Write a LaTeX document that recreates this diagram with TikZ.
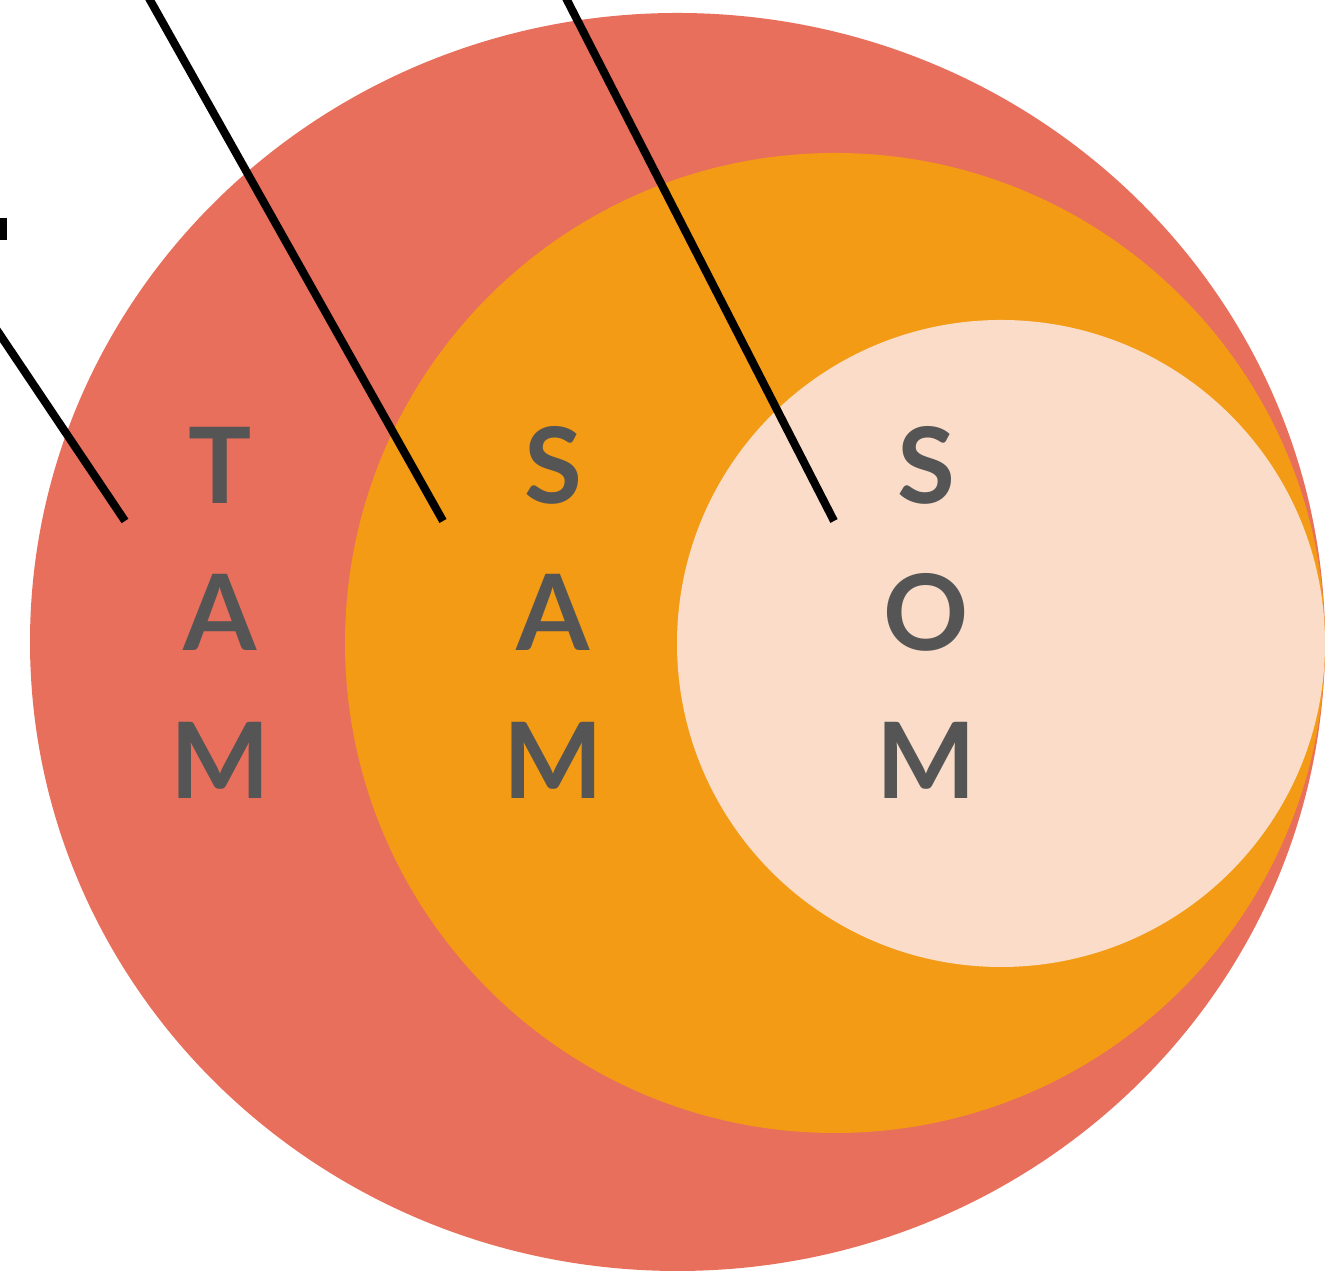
\documentclass[tikz,border=0pt]{standalone}
\usepackage{fontspec}
\setmainfont{Lato}
\usetikzlibrary{positioning}
\definecolor{TamRed}{HTML}{E86F5C}
\definecolor{SamOrange}{HTML}{F39B14}
\definecolor{SomPeach}{HTML}{FADCC8}
\definecolor{LetterGray}{HTML}{555555}
\tikzset{
  letter/.style={inner sep=0pt, font=\fontsize{30}{30}\selectfont\bfseries, text=LetterGray},
  leader/.style={draw=black, line width=2.3pt},
  ring/.style={draw=none}
}
\begin{document}
\begin{tikzpicture}
  \useasboundingbox (0,0) rectangle (13.25,12.71);

  % nested markets
  \fill[ring, TamRed]    (6.775,6.29) ellipse [x radius=6.475, y radius=6.29];
  \fill[ring, SamOrange] (8.35,6.28)  circle [radius=4.90];
  \fill[ring, SomPeach]  (10.01,6.275) ellipse [x radius=3.24, y radius=3.235];

  % letters
  \node[letter] (t1) at (2.20,8.06) {T};
  \node[letter] (t2) at (2.20,6.585) {A};
  \node[letter] (t3) at (2.20,5.11) {M};
  \node[letter] (s1) at (5.53,8.06) {S};
  \node[letter] (s2) at (5.53,6.585) {A};
  \node[letter] (s3) at (5.53,5.11) {M};
  \node[letter] (o1) at (9.26,8.06) {S};
  \node[letter] (o2) at (9.26,6.585) {O};
  \node[letter] (o3) at (9.26,5.11) {M};

  % leader lines
  \coordinate (tamEnd) at (1.25,7.50);
  \coordinate (samEnd) at (4.43,7.50);
  \coordinate (somEnd) at (8.34,7.50);
  \coordinate (tamFree) at (-0.2,9.66);
  \coordinate (samFree) at (1.387,12.91);
  \coordinate (somFree) at (5.567,12.91);
  \coordinate (markTop) at (0.03,10.53);
  \coordinate (markBot) at (0.03,10.31);

  \draw[leader] (tamFree) -- (tamEnd);
  \draw[leader] (samFree) -- (samEnd);
  \draw[leader] (somFree) -- (somEnd);
  \draw[leader, line width=0.07cm] (markTop) -- (markBot);
\end{tikzpicture}
\end{document}
